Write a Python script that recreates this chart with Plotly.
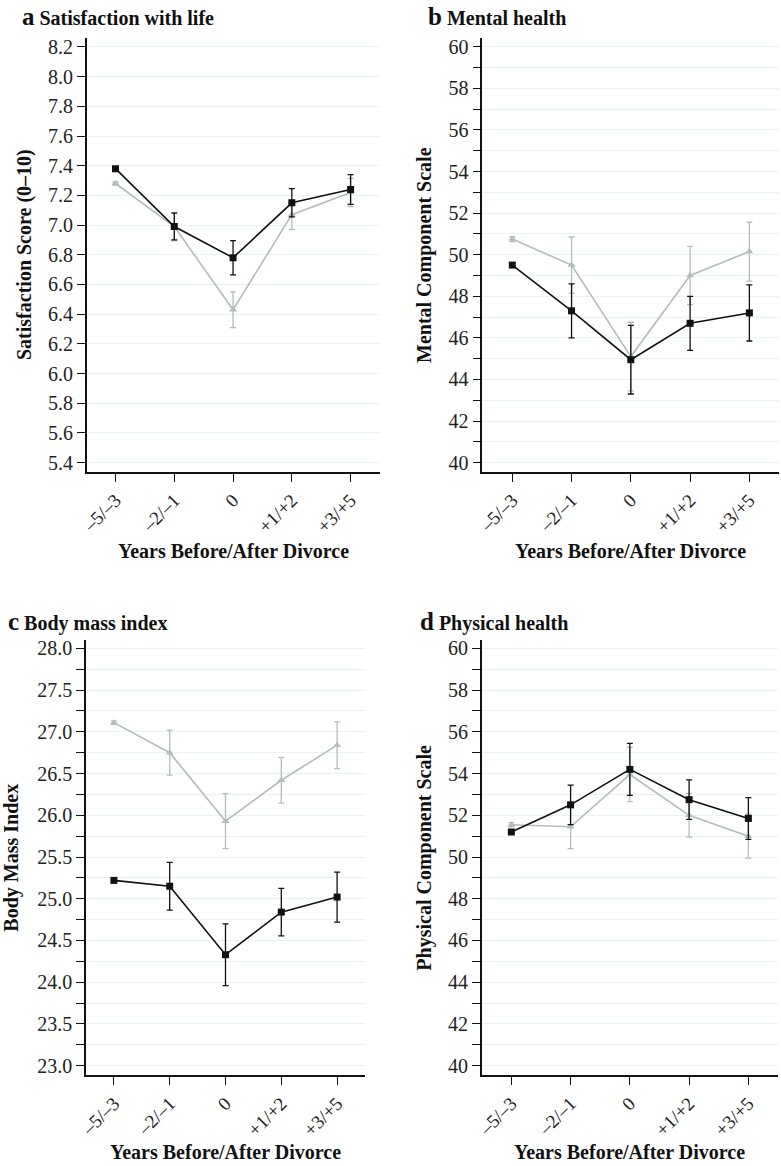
import plotly.graph_objects as go

categories = ["–5/–3", "–2/–1", "0", "+1/+2", "+3/+5"]

# Panel a: Satisfaction with life
a_black = [7.38, 6.99, 6.78, 7.15, 7.24]
a_black_err = [0.01, 0.09, 0.115, 0.095, 0.10]
a_gray = [7.28, 6.99, 6.43, 7.07, 7.22]
a_gray_err = [0.01, 0.095, 0.12, 0.10, 0.095]

# Panel b: Mental health
b_black = [49.5, 47.3, 44.95, 46.7, 47.2]
b_black_err = [0.1, 1.3, 1.65, 1.3, 1.35]
b_gray = [50.75, 49.5, 45.1, 49.0, 50.15]
b_gray_err = [0.12, 1.35, 1.65, 1.4, 1.42]

# Panel c: Body mass index
c_black = [25.22, 25.15, 24.33, 24.84, 25.02]
c_black_err = [0.015, 0.285, 0.37, 0.285, 0.30]
c_gray = [27.11, 26.75, 25.93, 26.42, 26.84]
c_gray_err = [0.02, 0.27, 0.33, 0.275, 0.28]

# Panel d: Physical health
d_black = [51.2, 52.5, 54.2, 52.75, 51.85]
d_black_err = [0.08, 0.95, 1.25, 0.95, 1.0]
d_gray = [51.55, 51.45, 53.95, 52.0, 51.0]
d_gray_err = [0.1, 1.05, 1.3, 1.05, 1.05]

BLACK = "#111111"
GRAY = "#b3bcbc"
GRID = "#e9f3f3"
FONT = "'Liberation Serif', 'DejaVu Serif', serif"
W, H = 781, 1166

panels = [
    dict(name="a", title="Satisfaction with life", ytitle="Satisfaction Score (0–10)",
         black=a_black, berr=a_black_err, gray=a_gray, gerr=a_gray_err,
         x=(86.7, 380), y=(38, 472), yr=(5.337, 8.26), dtick=0.2, minor=None, fmt=".1f",
         xr=(-0.49, 4.5), tpos=(20, 17), ytpos=25, xtpos=551),
    dict(name="b", title="Mental health", ytitle="Mental Component Scale",
         black=b_black, berr=b_black_err, gray=b_gray, gerr=b_gray_err,
         x=(482.3, 779), y=(38, 472), yr=(39.55, 60.42), dtick=2, minor=1, fmt="d",
         xr=(-0.506, 4.5), tpos=(426, 17), ytpos=425, xtpos=551),
    dict(name="c", title="Body mass index", ytitle="Body Mass Index",
         black=c_black, berr=c_black_err, gray=c_gray, gerr=c_gray_err,
         x=(86, 365), y=(640, 1075.3), yr=(22.885, 28.1), dtick=0.5, minor=0.25, fmt=".1f",
         xr=(-0.5, 4.5), tpos=(6, 621), ytpos=12, xtpos=1152),
    dict(name="d", title="Physical health", ytitle="Physical Component Scale",
         black=d_black, berr=d_black_err, gray=d_gray, gerr=d_gray_err,
         x=(481.7, 778), y=(640, 1075.3), yr=(39.54, 60.4), dtick=2, minor=1, fmt="d",
         xr=(-0.5, 4.5), tpos=(418, 621), ytpos=425, xtpos=1152),
]

fig = go.Figure()
annotations = []
xidx = list(range(len(categories)))

for i, p in enumerate(panels, start=1):
    xa = "x" if i == 1 else f"x{i}"
    ya = "y" if i == 1 else f"y{i}"
    fig.add_trace(go.Scatter(
        x=xidx, y=p["gray"], mode="lines+markers", xaxis=xa, yaxis=ya,
        line=dict(color=GRAY, width=1.6),
        marker=dict(symbol="triangle-up", size=7, color=GRAY),
        error_y=dict(type="data", array=p["gerr"], color=GRAY, thickness=1.3, width=3),
        showlegend=False))
    fig.add_trace(go.Scatter(
        x=xidx, y=p["black"], mode="lines+markers", xaxis=xa, yaxis=ya,
        line=dict(color=BLACK, width=1.6),
        marker=dict(symbol="square", size=7, color=BLACK),
        error_y=dict(type="data", array=p["berr"], color=BLACK, thickness=1.3, width=3),
        showlegend=False))

    xdom = [p["x"][0] / W, p["x"][1] / W]
    ydom = [1 - p["y"][1] / H, 1 - p["y"][0] / H]
    xkey = "xaxis" if i == 1 else f"xaxis{i}"
    ykey = "yaxis" if i == 1 else f"yaxis{i}"
    yaxis = dict(
        domain=ydom, anchor=xa, range=list(p["yr"]), dtick=p["dtick"], automargin=False,
        tick0=0, tickformat=p["fmt"], showline=True, linecolor=BLACK, linewidth=1.5,
        ticks="outside", ticklen=8, tickcolor=BLACK, tickwidth=1.2,
        showgrid=True, gridcolor=GRID, gridwidth=1, zeroline=False,
        tickfont=dict(family=FONT, size=20, color="#222"),
    )
    if p["minor"]:
        yaxis["minor"] = dict(dtick=p["minor"], tick0=0, ticks="outside", ticklen=8,
                              tickcolor=BLACK, tickwidth=1.2, showgrid=True,
                              gridcolor=GRID, gridwidth=1)
    fig.update_layout({
        xkey: dict(domain=xdom, anchor=ya, range=list(p["xr"]), automargin=False,
                   tickmode="array", tickvals=xidx, ticktext=categories,
                   tickangle=-45, showline=True, linecolor=BLACK, linewidth=1.5,
                   ticks="outside", ticklen=8, tickcolor=BLACK, tickwidth=1.2,
                   showgrid=False, zeroline=False,
                   tickfont=dict(family=FONT, size=19, color="#222")),
        ykey: yaxis,
    })

    annotations.append(dict(
        x=p["tpos"][0] / W, y=1 - p["tpos"][1] / H, xref="paper", yref="paper",
        xanchor="left", yanchor="middle", showarrow=False,
        text=f"<b><span style='font-size:25px'>{p['name']}</span> {p['title']}</b>",
        font=dict(family=FONT, size=20, color="#111")))
    annotations.append(dict(
        x=p["ytpos"] / W, y=1 - (p["y"][0] + p["y"][1]) / 2 / H, xref="paper", yref="paper",
        xanchor="center", yanchor="middle", showarrow=False, textangle=-90,
        text=f"<b>{p['ytitle']}</b>",
        font=dict(family=FONT, size=20, color="#111")))
    annotations.append(dict(
        x=(p["x"][0] + (p["x"][1] - p["x"][0]) * (2 - p["xr"][0]) / (p["xr"][1] - p["xr"][0])) / W,
        y=1 - p["xtpos"] / H, xref="paper", yref="paper",
        xanchor="center", yanchor="middle", showarrow=False,
        text="<b>Years Before/After Divorce</b>",
        font=dict(family=FONT, size=20, color="#111")))

fig.update_layout(
    width=W, height=H, margin=dict(l=0, r=0, t=0, b=0),
    paper_bgcolor="white", plot_bgcolor="white",
    annotations=annotations, showlegend=False,
)

fig.write_html("out.html", config={"displayModeBar": False},
               post_script="document.body.style.margin='0';")
